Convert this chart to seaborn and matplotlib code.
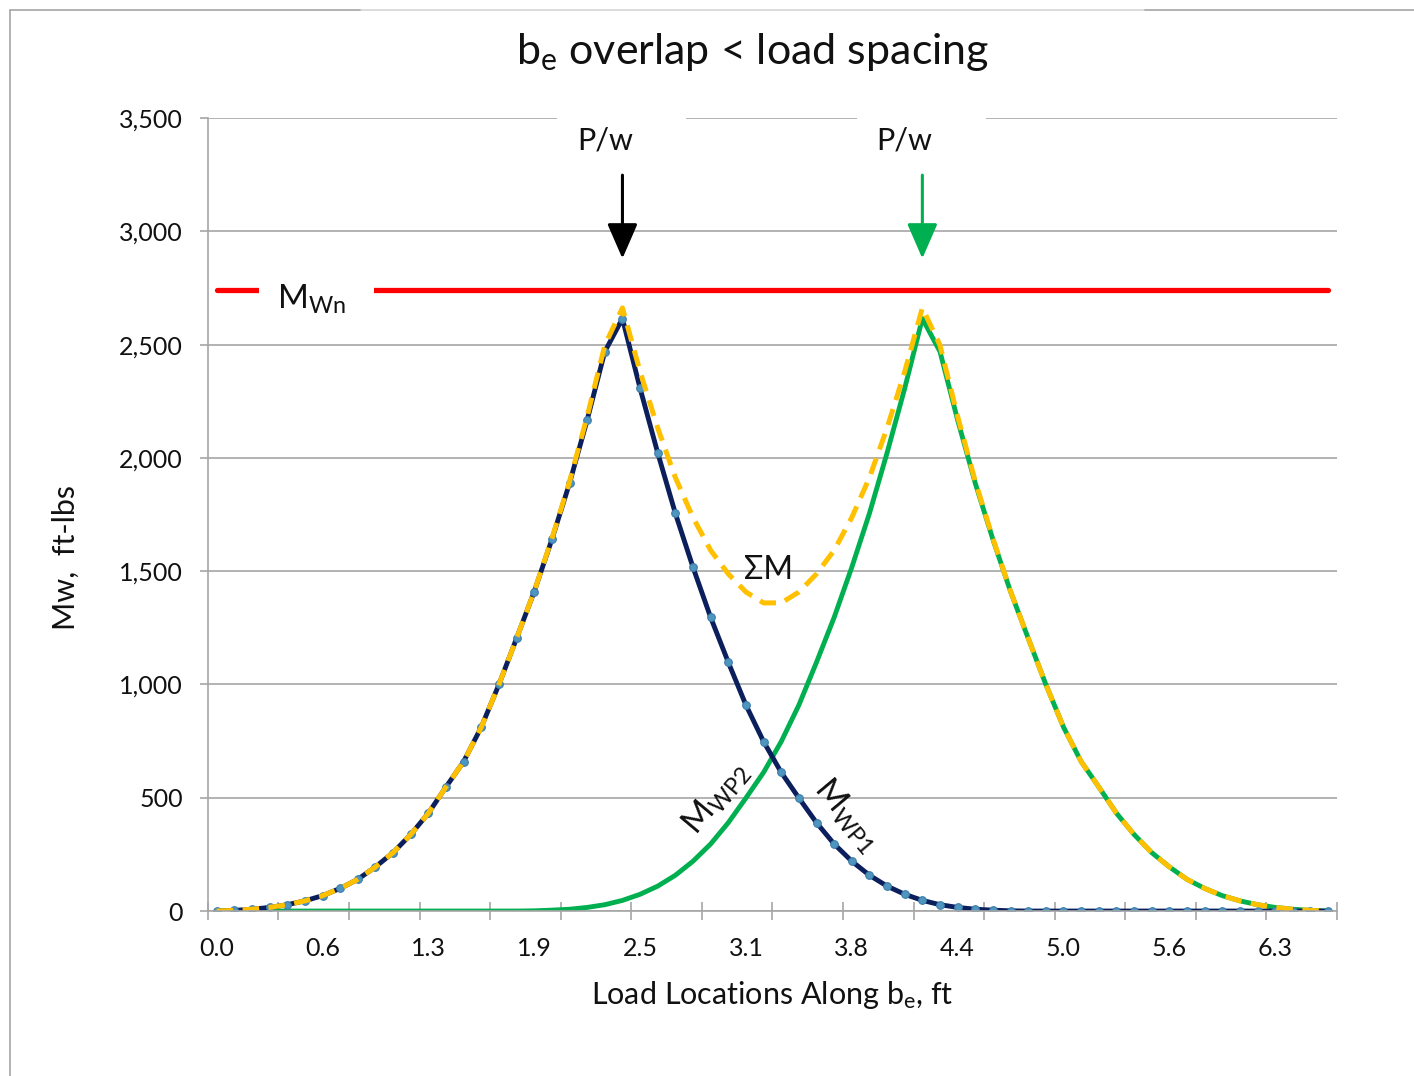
import matplotlib
matplotlib.use("Agg")
import matplotlib.pyplot as plt
import seaborn as sns
import numpy as np
from matplotlib.lines import Line2D
from matplotlib.patches import Rectangle
from matplotlib.ticker import FuncFormatter

# load positions along b_e (every 6th category labelled)
x_labels = ["0.0", "0.6", "1.3", "1.9", "2.5", "3.1", "3.8", "4.4", "5.0", "5.6", "6.3"]

# moment from load 1, ft-lbs
m_wp1 = [0, 3, 8, 16, 28, 45, 68, 100, 140, 195, 258, 338, 432, 548, 660, 812,
         1000, 1204, 1410, 1640, 1888, 2167, 2469, 2615, 2307, 2022, 1755, 1517,
         1296, 1098, 909, 748, 612, 499, 390, 296, 220, 158, 110, 74, 47, 28, 16,
         8, 4, 1, 0, 0, 0, 0, 0, 0, 0, 0, 0, 0, 0, 0, 0, 0, 0, 0, 0, 0]

# moment from load 2, ft-lbs
m_wp2 = [0, 0, 0, 0, 0, 0, 0, 0, 0, 0, 0, 0, 0, 0, 0, 0, 0, 0, 1, 4, 8, 16, 28,
         47, 74, 110, 158, 220, 296, 390, 499, 612, 748, 909, 1098, 1296, 1517,
         1755, 2022, 2307, 2615, 2469, 2167, 1888, 1640, 1410, 1204, 1000, 812,
         660, 548, 432, 338, 258, 195, 140, 100, 68, 45, 28, 16, 8, 3, 0]

# combined moment
m_sum = [0, 3, 8, 16, 28, 45, 68, 100, 140, 195, 258, 338, 432, 548, 660, 812,
         1000, 1204, 1411, 1644, 1896, 2183, 2497, 2662, 2381, 2132, 1913, 1737,
         1592, 1488, 1408, 1360, 1360, 1408, 1488, 1592, 1737, 1913, 2132, 2381,
         2662, 2497, 2183, 1896, 1644, 1411, 1204, 1000, 812, 660, 548, 432, 338,
         258, 195, 140, 100, 68, 45, 28, 16, 8, 3, 0]

m_wn = 2740          # nominal moment capacity
load_idx = [23, 40]  # where the two P/w loads sit

sns.set_theme(style="white")
plt.rcParams["font.family"] = ["Lato", "DejaVu Sans"]
plt.rcParams["mathtext.default"] = "regular"

txt = "#111111"
grid_c = "#A6A6A6"

fig = plt.figure(figsize=(14.14, 10.76), dpi=100)
ax = fig.add_axes([0.147, 0.1533, 0.7985, 0.737])

idx = np.arange(len(m_wp1))

sns.lineplot(x=idx, y=m_wp2, color="#00B050", linewidth=3.5, ax=ax)
sns.lineplot(x=idx, y=m_wp1, color="#0B1F5C", linewidth=3.5, marker="o",
             markersize=5.5, markerfacecolor="#4E95C0", markeredgecolor="#3C7EAA",
             markeredgewidth=0.8, ax=ax)
sns.lineplot(x=idx, y=m_sum, color="#FFC000", linewidth=3.6,
             linestyle=(0, (3.3, 1.9)), ax=ax)
sns.lineplot(x=[idx[0], idx[-1]], y=[m_wn, m_wn], color="#FF0000", linewidth=3.8,
             solid_capstyle="round", ax=ax)

ax.set_xlim(-0.5, len(idx) - 0.5)
ax.set_ylim(0, 3500)
ax.set_yticks(range(0, 3501, 500))
ax.yaxis.set_major_formatter(FuncFormatter(lambda v, p: f"{int(v):,}"))
ax.set_xticks(idx[::6])
ax.set_xticklabels(x_labels)
ax.set_xticks(np.arange(-0.5, len(idx), 4), minor=True)

ax.tick_params(axis="x", which="major", bottom=True, length=0, pad=19,
               labelsize=18, labelcolor=txt)
ax.tick_params(axis="x", which="minor", bottom=True, direction="inout",
               length=13, width=1.2, color=grid_c)
ax.tick_params(axis="y", left=True, length=6, width=1.2, color=grid_c, pad=12,
               labelsize=18, labelcolor=txt)

ax.yaxis.grid(True, color=grid_c, linewidth=1.2)
ax.xaxis.grid(False)
for s in ["top", "right"]:
    ax.spines[s].set_visible(False)
for s in ["left", "bottom"]:
    ax.spines[s].set_color(grid_c)
    ax.spines[s].set_linewidth(1.2)

# white masks behind the labels (gaps in gridline / red line)
for lx in load_idx:
    ax.add_patch(Rectangle((lx - 3.7, 3420), 7.3, 150, facecolor="white",
                           edgecolor="none", zorder=1, clip_on=False))
ax.add_patch(Rectangle((2.4, 2680), 6.5, 120, facecolor="white",
                       edgecolor="none", zorder=3))

# load arrows
for lx, col in zip(load_idx, ["black", "#00B050"]):
    ax.text(lx - 1.0, 3403, "P/w", ha="center", va="center", fontsize=22,
            color=txt, zorder=4)
    ax.annotate("", xy=(lx, 2880), xytext=(lx, 3248),
                arrowprops=dict(arrowstyle="-|>,head_width=0.47,head_length=1.08",
                                color=col, lw=2.2, shrinkA=0, shrinkB=0,
                                mutation_scale=20),
                annotation_clip=False)

ax.text(5.4, 2700, "M$_{Wn}$", ha="center", va="center", fontsize=24,
        color=txt, zorder=4)
ax.text(31.3, 1505, "ΣM", ha="center", va="center", fontsize=23, color=txt)
ax.text(28.3, 499, "M$_{WP2}$", ha="center", va="center", fontsize=24,
        rotation=50, rotation_mode="anchor", color=txt)
ax.text(35.7, 424, "M$_{WP1}$", ha="center", va="center", fontsize=24,
        rotation=-50, rotation_mode="anchor", color=txt)

ax.set_xlabel("Load Locations Along b$_{e}$, ft", fontsize=22, color=txt)
ax.set_ylabel("Mw,  ft-lbs", fontsize=22, color=txt)
ax.xaxis.set_label_coords(0.5, -0.086)
ax.yaxis.set_label_coords(-0.113, 0.446)

fig.text(0.532, 0.952, "b$_{e}$ overlap < load spacing", ha="center",
         va="center", fontsize=31, color=txt)

# outer frame of the original slide
fig.add_artist(Line2D([0.007, 0.007], [0, 0.991], transform=fig.transFigure,
                      color="#A6A6A6", lw=1.2))
fig.add_artist(Line2D([0.007, 0.255], [0.991, 0.991], transform=fig.transFigure,
                      color="#A6A6A6", lw=1.2))
fig.add_artist(Line2D([0.255, 0.81], [0.991, 0.991], transform=fig.transFigure,
                      color="#D6D6D6", lw=1.2))
fig.add_artist(Line2D([0.81, 1.0], [0.991, 0.991], transform=fig.transFigure,
                      color="#A6A6A6", lw=1.2))

fig.savefig("out.png", dpi=100)
